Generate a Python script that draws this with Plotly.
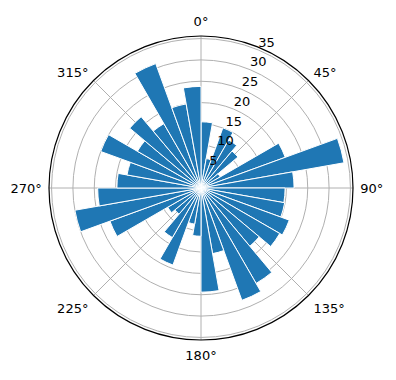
import plotly.graph_objects as go

# bar centres (degrees, clockwise from north) and radial values
angles = [5 + 10 * k for k in range(36)]
values = [15.5, 7.0, 15.0, 13.0, 11.3, 5.2, 21.0, 34.0, 21.8,
          19.7, 19.9, 22.0, 21.3, 17.8, 25.8, 28.0, 15.6, 24.4,
          11.3, 8.6, 19.2, 13.4, 8.0, 9.0, 22.7, 30.0, 24.2,
          19.7, 17.6, 25.0, 17.2, 21.8, 17.4, 31.0, 20.0, 23.8]
bar_width = 10
radial_ticks = [5, 10, 15, 20, 25, 30, 35]
radial_label_angle = 22.5
angle_ticks = [0, 45, 90, 135, 180, 225, 270, 315]
angle_labels = [f"{a}°" for a in angle_ticks]

fig = go.Figure()
fig.add_trace(go.Barpolar(
    r=values, theta=angles, width=[bar_width] * len(values),
    marker=dict(color="#1f77b4", line=dict(color="white", width=1)),
    hoverinfo="r+theta",
))
# radial tick labels, placed like matplotlib's (bottom-left anchored at the ring)
fig.add_trace(go.Scatterpolar(
    r=radial_ticks, theta=[radial_label_angle] * len(radial_ticks),
    mode="text", text=[str(t) for t in radial_ticks],
    textposition="top right",
    textfont=dict(family="DejaVu Sans", size=13, color="black"),
    cliponaxis=False, hoverinfo="skip",
))

fig.update_layout(
    width=396, height=380,
    margin=dict(l=49, r=43, t=36, b=40),
    paper_bgcolor="white",
    font=dict(family="DejaVu Sans", size=13, color="black"),
    showlegend=False,
    polar=dict(
        bgcolor="white",
        bargap=0,
        angularaxis=dict(
            rotation=90, direction="clockwise",
            tickmode="array", tickvals=angle_ticks, ticktext=angle_labels,
            showline=True, linecolor="black", linewidth=1.2,
            gridcolor="#b0b0b0", gridwidth=0.8,
            ticks="outside", ticklen=4, tickcolor="rgba(0,0,0,0)",
        ),
        radialaxis=dict(
            range=[0, 35.6], tickmode="array", tickvals=radial_ticks,
            showticklabels=False, showline=False, ticks="",
            gridcolor="#b0b0b0", gridwidth=0.8,
        ),
    ),
)

fig.write_html("out.html")
